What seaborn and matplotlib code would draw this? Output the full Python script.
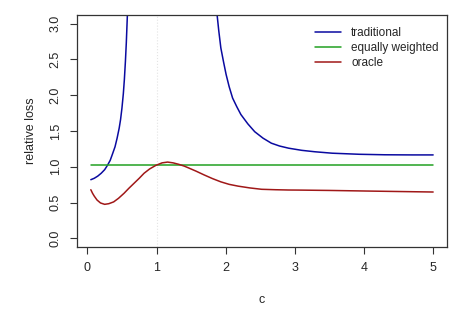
import pandas as pd
import matplotlib
matplotlib.use('Agg')
import matplotlib.pyplot as plt
import seaborn as sns

# values
trad_left_c = [0.05, 0.10, 0.15, 0.20, 0.25, 0.29, 0.33, 0.36, 0.40, 0.43, 0.46, 0.48, 0.50,
               0.52, 0.535, 0.55, 0.563, 0.575, 0.59]
trad_left_v = [0.82, 0.84, 0.87, 0.91, 0.96, 1.02, 1.09, 1.17, 1.28, 1.40, 1.54, 1.66, 1.82,
               2.02, 2.22, 2.47, 2.73, 3.03, 3.40]
trad_right_c = [1.85, 1.875, 1.90, 1.93, 1.97, 2.006, 2.05, 2.10, 2.16, 2.22, 2.32, 2.42, 2.54,
                2.66, 2.78, 2.91, 3.10, 3.29, 3.54, 3.93, 4.3, 4.7, 5.0]
trad_right_v = [3.40, 3.13, 2.90, 2.66, 2.46, 2.29, 2.12, 1.96, 1.84, 1.73, 1.60, 1.49, 1.40,
                1.33, 1.29, 1.26, 1.23, 1.21, 1.19, 1.175, 1.168, 1.166, 1.166]
ew_c = [0.05, 5.0]
ew_v = [1.025, 1.025]
oracle_c = [0.05, 0.075, 0.10, 0.14, 0.19, 0.25, 0.31, 0.38, 0.45, 0.53, 0.60, 0.675, 0.75, 0.82,
            0.90, 0.99, 1.08, 1.16, 1.24, 1.32, 1.40, 1.45, 1.57, 1.69, 1.81, 1.93, 2.05, 2.18,
            2.35, 2.52, 2.72, 2.91, 3.05, 3.5, 4.02, 4.5, 5.0]
oracle_v = [0.68, 0.63, 0.59, 0.536, 0.495, 0.476, 0.485, 0.51, 0.56, 0.63, 0.70, 0.77, 0.84, 0.91,
            0.97, 1.02, 1.055, 1.066, 1.055, 1.035, 1.01, 0.99, 0.94, 0.886, 0.835, 0.79, 0.755, 0.73,
            0.705, 0.686, 0.68, 0.676, 0.675, 0.67, 0.662, 0.655, 0.648]

blue = '#0a0aa0'
green = '#22a022'
red = '#a01818'

sns.set_style('ticks')
plt.rcParams['font.family'] = ['Liberation Sans', 'DejaVu Sans']

fig = plt.figure(figsize=(4.63, 3.09), dpi=100)
ax = fig.add_axes([0.1663, 0.2006, 0.7991, 0.7509])

ax.axvline(1, color='#e4e4e4', ls=':', lw=0.8, zorder=0)
sns.lineplot(x=trad_left_c, y=trad_left_v, color=blue, lw=1.1, ax=ax, label='traditional', sort=False)
sns.lineplot(x=trad_right_c, y=trad_right_v, color=blue, lw=1.1, ax=ax, sort=False)
sns.lineplot(x=ew_c, y=ew_v, color=green, lw=1.1, ax=ax, label='equally weighted')
sns.lineplot(x=oracle_c, y=oracle_v, color=red, lw=1.1, ax=ax, label='oracle', sort=False)

ax.set_xlim(-0.15, 5.2)
ax.set_ylim(-0.12, 3.12)
ax.set_xticks([0, 1, 2, 3, 4, 5])
ax.set_yticks([0.0, 0.5, 1.0, 1.5, 2.0, 2.5, 3.0])
ax.set_yticklabels(['0.0', '0.5', '1.0', '1.5', '2.0', '2.5', '3.0'], rotation=90, va='center')
ax.tick_params(axis='both', direction='out', length=5, width=0.8, color='#333333', labelsize=9, pad=6)
ax.tick_params(axis='y', pad=6)
for s in ax.spines.values():
    s.set_visible(True)
    s.set_color('#333333')
    s.set_linewidth(0.9)
ax.set_xlabel('c', fontsize=9, labelpad=14)
ax.set_ylabel('relative loss', fontsize=9, labelpad=9)

leg = ax.legend(loc='upper right', bbox_to_anchor=(1.0, 0.985), frameon=False, fontsize=8.5,
                handlelength=2.2, handletextpad=0.9, labelspacing=0.25, borderaxespad=0.3)

fig.savefig('out.png', dpi=100)
